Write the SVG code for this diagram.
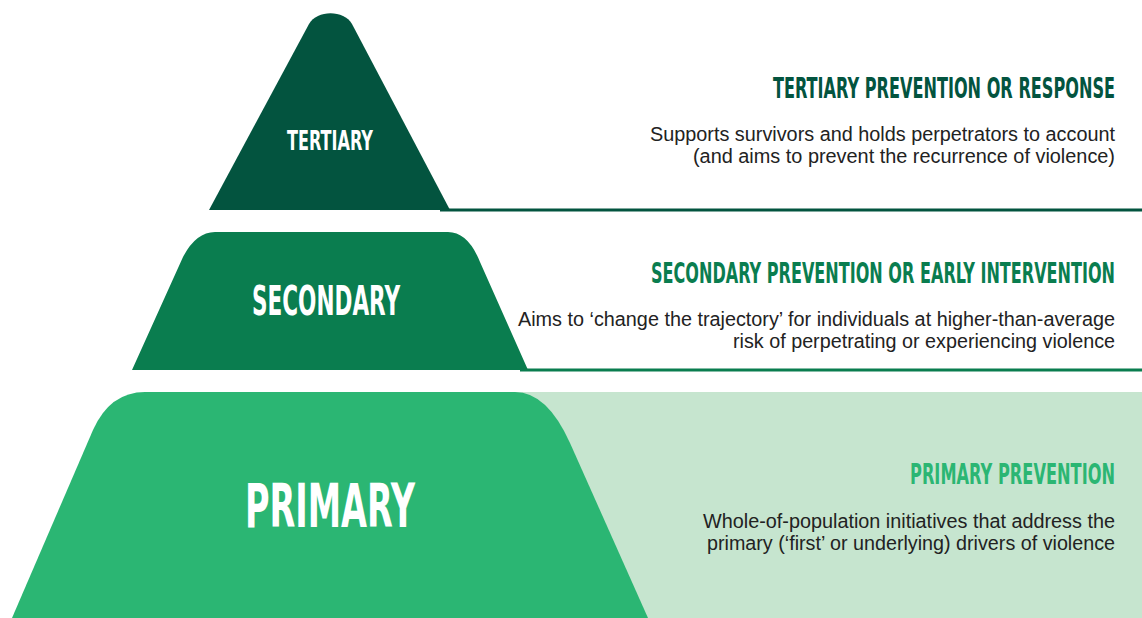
<svg xmlns="http://www.w3.org/2000/svg" width="1142" height="618" viewBox="0 0 1142 618">
<style>
.lbl{font-family:"DejaVu Sans Condensed","DejaVu Sans",sans-serif;font-weight:bold;fill:#fff;text-anchor:middle}
.hd{font-family:"DejaVu Sans Condensed","DejaVu Sans",sans-serif;font-weight:bold;font-size:29px;text-anchor:end}
.body{font-family:"Liberation Sans",Arial,sans-serif;font-size:20px;fill:#222;text-anchor:end}
</style>
<rect width="1142" height="618" fill="#fff"/>
<g id="primary">
<rect x="480" y="392" width="662" height="226" fill="#c6e5cf"/>
<path d="M12,618 L93,430 Q110,392 145,392 L515,392 Q547,392 570,443 L648,618 Z" fill="#2bb673"/>
<text class="lbl" x="330" y="527" font-size="61" textLength="170" lengthAdjust="spacingAndGlyphs">PRIMARY</text>
<text class="hd" x="1115" y="484" fill="#2bb673" textLength="205" lengthAdjust="spacingAndGlyphs">PRIMARY PREVENTION</text>
<text class="body" x="1115" y="528" textLength="412" lengthAdjust="spacingAndGlyphs">Whole-of-population initiatives that address the</text>
<text class="body" x="1115" y="550" textLength="408" lengthAdjust="spacingAndGlyphs">primary (‘first’ or underlying) drivers of violence</text>
</g>
<g id="secondary">
<path d="M132,370 L183,257 Q196,232 215,232 L448,232 Q468,232 480,262 L528,370 Z" fill="#0a7d4f"/>
<text class="lbl" x="326" y="315" font-size="41" textLength="148" lengthAdjust="spacingAndGlyphs">SECONDARY</text>
<text class="hd" x="1115" y="283" fill="#0a7d4f" textLength="464" lengthAdjust="spacingAndGlyphs">SECONDARY PREVENTION OR EARLY INTERVENTION</text>
<text class="body" x="1115" y="326" textLength="597" lengthAdjust="spacingAndGlyphs">Aims to ‘change the trajectory’ for individuals at higher-than-average</text>
<text class="body" x="1115" y="348" textLength="382" lengthAdjust="spacingAndGlyphs">risk of perpetrating or experiencing violence</text>
</g>
<g id="tertiary">
<path d="M209,210 L309,24 C317,9.5 344,9.5 352,24 L450,210 Z" fill="#03543f"/>
<text class="lbl" x="330" y="150" font-size="27" textLength="86" lengthAdjust="spacingAndGlyphs">TERTIARY</text>
<text class="hd" x="1115" y="98" fill="#03543f" textLength="342" lengthAdjust="spacingAndGlyphs">TERTIARY PREVENTION OR RESPONSE</text>
<text class="body" x="1115" y="141" textLength="465" lengthAdjust="spacingAndGlyphs">Supports survivors and holds perpetrators to account</text>
<text class="body" x="1115" y="163" textLength="422" lengthAdjust="spacingAndGlyphs">(and aims to prevent the recurrence of violence)</text>
</g>
<g id="connectors" stroke-width="3" fill="none">
<line x1="440" y1="210" x2="1142" y2="210" stroke="#03543f"/>
<line x1="520" y1="370" x2="1142" y2="370" stroke="#0a7d4f"/>
</g>
</svg>
